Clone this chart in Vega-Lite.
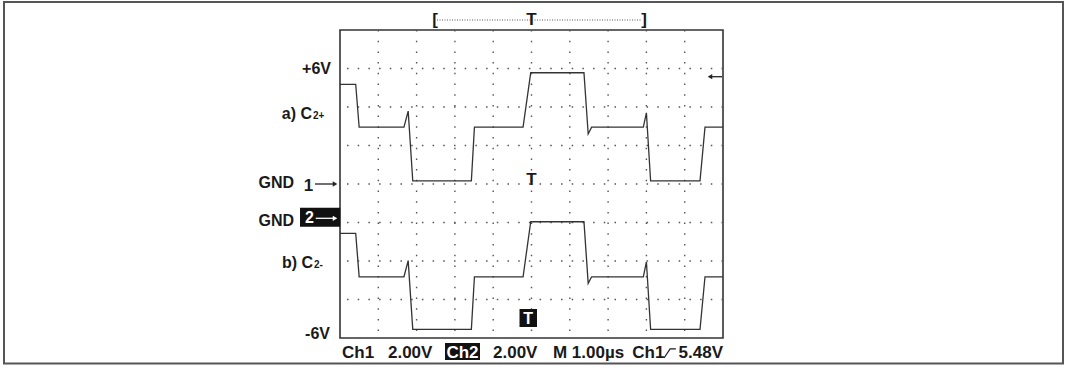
{
  "$schema": "https://vega.github.io/schema/vega-lite/v6.json",
  "width": 383,
  "height": 308,
  "autosize": {"type": "none"},
  "padding": {"left": 340, "top": 30, "right": 344, "bottom": 36},
  "background": "white",
  "config": {"view": {"stroke": "#333", "strokeWidth": 1.6}},
  "datasets": {
    "ch1": [
      {"i": 0, "t": -5.0, "v": 5.18}, {"i": 1, "t": -4.59, "v": 5.18}, {"i": 2, "t": -4.5, "v": 2.95},
      {"i": 3, "t": -3.33, "v": 2.95}, {"i": 4, "t": -3.22, "v": 3.79}, {"i": 5, "t": -3.1, "v": 0.16},
      {"i": 6, "t": -1.57, "v": 0.16}, {"i": 7, "t": -1.49, "v": 2.95}, {"i": 8, "t": -0.22, "v": 2.95},
      {"i": 9, "t": -0.02, "v": 5.78}, {"i": 10, "t": 1.37, "v": 5.78}, {"i": 11, "t": 1.48, "v": 2.6},
      {"i": 12, "t": 1.57, "v": 2.95}, {"i": 13, "t": 2.92, "v": 2.95}, {"i": 14, "t": 3.0, "v": 3.7},
      {"i": 15, "t": 3.11, "v": 0.16}, {"i": 16, "t": 4.4, "v": 0.16}, {"i": 17, "t": 4.53, "v": 2.95},
      {"i": 18, "t": 5.0, "v": 2.95}
    ],
    "ch2": [
      {"i": 0, "t": -5.0, "v": -0.56}, {"i": 1, "t": -4.59, "v": -0.56}, {"i": 2, "t": -4.5, "v": -2.82},
      {"i": 3, "t": -3.33, "v": -2.82}, {"i": 4, "t": -3.22, "v": -1.98}, {"i": 5, "t": -3.1, "v": -5.55},
      {"i": 6, "t": -1.57, "v": -5.55}, {"i": 7, "t": -1.49, "v": -2.82}, {"i": 8, "t": -0.22, "v": -2.82},
      {"i": 9, "t": -0.02, "v": 0.04}, {"i": 10, "t": 1.37, "v": 0.04}, {"i": 11, "t": 1.48, "v": -3.16},
      {"i": 12, "t": 1.57, "v": -2.82}, {"i": 13, "t": 2.92, "v": -2.82}, {"i": 14, "t": 3.0, "v": -2.04},
      {"i": 15, "t": 3.11, "v": -5.55}, {"i": 16, "t": 4.4, "v": -5.55}, {"i": 17, "t": 4.53, "v": -2.82},
      {"i": 18, "t": 5.0, "v": -2.82}
    ],
    "vgrid": [{"t": -4}, {"t": -3}, {"t": -2}, {"t": -1}, {"t": 0}, {"t": 1}, {"t": 2}, {"t": 3}, {"t": 4}],
    "hgrid": [{"v": -6}, {"v": -4}, {"v": -2}, {"v": 0}, {"v": 2}, {"v": 4}, {"v": 6}],
    "outer": [{"x1": -13.773, "x2": 13.877, "y1": 9.455, "y2": -9.325}],
    "leftLabels": [
      {"x": -5.235, "y": 5.714, "text": "+6V"},
      {"x": -5.731, "y": 3.38, "text": "a) C"},
      {"x": -6.201, "y": -0.223, "text": "GND"},
      {"x": -6.201, "y": -2.182, "text": "GND"},
      {"x": -5.705, "y": -4.364, "text": "b) C"},
      {"x": -5.261, "y": -8.05, "text": "-6V"}
    ],
    "subs": [
      {"x": -5.705, "y": 3.38, "text": "2+"},
      {"x": -5.679, "y": -4.364, "text": "2-"}
    ],
    "centerDark": [
      {"x": -5.825, "y": -0.348, "text": "1"},
      {"x": -2.52, "y": 8.26, "text": "["},
      {"x": 0.0, "y": 8.26, "text": "T"},
      {"x": 2.937, "y": 8.26, "text": "]"},
      {"x": 0.0, "y": -0.052, "text": "T"}
    ],
    "boxes": [
      {"x1": -6.044, "x2": -4.995, "y1": -1.231, "y2": -2.218},
      {"x1": -2.258, "x2": -1.345, "y1": -8.26, "y2": -9.143},
      {"x1": -0.313, "x2": 0.144, "y1": -6.494, "y2": -7.429}
    ],
    "whiteText": [
      {"x": -5.796, "y": -2.042, "text": "2"},
      {"x": -0.086, "y": -7.273, "text": "T"}
    ],
    "whiteBottom": [{"x": -1.802, "y": -9.039, "text": "Ch2"}],
    "bottomText": [
      {"x": -4.948, "y": -9.039, "text": "Ch1"},
      {"x": -3.747, "y": -9.039, "text": "2.00V"},
      {"x": -1.005, "y": -9.039, "text": "2.00V"},
      {"x": 0.561, "y": -9.039, "text": "M 1.00µs"},
      {"x": 2.63, "y": -9.039, "text": "Ch1"},
      {"x": 3.84, "y": -9.039, "text": "5.48V"}
    ],
    "darkShafts": [
      {"x": -5.653, "x2": -5.17, "y": 0},
      {"x": 4.66, "x2": 4.974, "y": 5.574}
    ],
    "whiteShafts": [{"x": -5.634, "x2": -5.17, "y": -1.782}],
    "dotted": [{"x": -2.467, "x2": 2.877, "y": 8.519}],
    "headsRight": [{"x": -5.13, "y": 0}],
    "headsLeft": [{"x": 4.66, "y": 5.574}],
    "headsRightWhite": [{"x": -5.13, "y": -1.782}],
    "edge": [
      {"i": 0, "x": 3.46, "y": -9.04},
      {"i": 1, "x": 3.62, "y": -8.57},
      {"i": 2, "x": 3.77, "y": -8.57}
    ]
  },
  "resolve": {"scale": {"y": "independent"}},
  "layer": [
    {
      "layer": [
        {
          "data": {"name": "vgrid"},
          "mark": {"type": "rule", "color": "#555", "strokeWidth": 1.4, "strokeDash": [1.5, 9.2]},
          "encoding": {
            "x": {"field": "t", "type": "quantitative", "scale": {"domain": [-5, 5], "nice": false, "zero": false}, "axis": null}
          }
        },
        {
          "data": {"name": "hgrid"},
          "mark": {"type": "rule", "color": "#555", "strokeWidth": 1.4, "strokeDash": [1.5, 9.2]},
          "encoding": {
            "y": {"field": "v", "type": "quantitative", "scale": {"domain": [-8, 8], "nice": false, "zero": false}, "axis": null}
          }
        },
        {
          "data": {"name": "ch1"},
          "mark": {"type": "line", "color": "#333", "strokeWidth": 1.3},
          "encoding": {
            "x": {"field": "t", "type": "quantitative", "axis": null},
            "y": {"field": "v", "type": "quantitative", "axis": null},
            "order": {"field": "i"}
          }
        },
        {
          "data": {"name": "outer"},
          "mark": {"type": "rect", "fill": null, "fillOpacity": 0, "stroke": "#555", "strokeWidth": 2},
          "encoding": {
            "x": {"field": "x1", "type": "quantitative", "axis": null},
            "x2": {"field": "x2"},
            "y": {"field": "y1", "type": "quantitative", "axis": null},
            "y2": {"field": "y2"}
          }
        },
        {
          "data": {"name": "boxes"},
          "mark": {"type": "rect", "fill": "#111"},
          "encoding": {
            "x": {"field": "x1", "type": "quantitative", "axis": null},
            "x2": {"field": "x2"},
            "y": {"field": "y1", "type": "quantitative", "axis": null},
            "y2": {"field": "y2"}
          }
        },
        {
          "data": {"name": "leftLabels"},
          "mark": {"type": "text", "align": "right", "baseline": "alphabetic", "font": "Liberation Sans", "fontWeight": "bold", "fontSize": 16, "color": "#1a1a1a"},
          "encoding": {
            "x": {"field": "x", "type": "quantitative", "axis": null},
            "y": {"field": "y", "type": "quantitative", "axis": null},
            "text": {"field": "text"}
          }
        },
        {
          "data": {"name": "subs"},
          "mark": {"type": "text", "align": "left", "baseline": "alphabetic", "font": "Liberation Sans", "fontWeight": "bold", "fontSize": 10, "color": "#1a1a1a"},
          "encoding": {
            "x": {"field": "x", "type": "quantitative", "axis": null},
            "y": {"field": "y", "type": "quantitative", "axis": null},
            "text": {"field": "text"}
          }
        },
        {
          "data": {"name": "centerDark"},
          "mark": {"type": "text", "align": "center", "baseline": "alphabetic", "font": "Liberation Sans", "fontWeight": "bold", "fontSize": 17, "color": "#1a1a1a"},
          "encoding": {
            "x": {"field": "x", "type": "quantitative", "axis": null},
            "y": {"field": "y", "type": "quantitative", "axis": null},
            "text": {"field": "text"}
          }
        },
        {
          "data": {"name": "whiteText"},
          "mark": {"type": "text", "align": "center", "baseline": "alphabetic", "font": "Liberation Sans", "fontWeight": "bold", "fontSize": 16, "color": "white"},
          "encoding": {
            "x": {"field": "x", "type": "quantitative", "axis": null},
            "y": {"field": "y", "type": "quantitative", "axis": null},
            "text": {"field": "text"}
          }
        },
        {
          "data": {"name": "whiteBottom"},
          "mark": {"type": "text", "align": "center", "baseline": "alphabetic", "font": "Liberation Sans", "fontWeight": "bold", "fontSize": 17, "color": "white"},
          "encoding": {
            "x": {"field": "x", "type": "quantitative", "axis": null},
            "y": {"field": "y", "type": "quantitative", "axis": null},
            "text": {"field": "text"}
          }
        },
        {
          "data": {"name": "bottomText"},
          "mark": {"type": "text", "align": "left", "baseline": "alphabetic", "font": "Liberation Sans", "fontWeight": "bold", "fontSize": 17, "color": "#1a1a1a"},
          "encoding": {
            "x": {"field": "x", "type": "quantitative", "axis": null},
            "y": {"field": "y", "type": "quantitative", "axis": null},
            "text": {"field": "text"}
          }
        },
        {
          "data": {"name": "darkShafts"},
          "mark": {"type": "rule", "color": "#222", "strokeWidth": 1.3},
          "encoding": {
            "x": {"field": "x", "type": "quantitative", "axis": null},
            "x2": {"field": "x2"},
            "y": {"field": "y", "type": "quantitative", "axis": null}
          }
        },
        {
          "data": {"name": "whiteShafts"},
          "mark": {"type": "rule", "color": "white", "strokeWidth": 1.3},
          "encoding": {
            "x": {"field": "x", "type": "quantitative", "axis": null},
            "x2": {"field": "x2"},
            "y": {"field": "y", "type": "quantitative", "axis": null}
          }
        },
        {
          "data": {"name": "dotted"},
          "mark": {"type": "rule", "color": "#555", "strokeWidth": 1, "strokeDash": [1, 1.5]},
          "encoding": {
            "x": {"field": "x", "type": "quantitative", "axis": null},
            "x2": {"field": "x2"},
            "y": {"field": "y", "type": "quantitative", "axis": null}
          }
        },
        {
          "data": {"name": "headsRight"},
          "mark": {"type": "point", "shape": "triangle-right", "filled": true, "color": "#222", "size": 28, "opacity": 1},
          "encoding": {
            "x": {"field": "x", "type": "quantitative", "axis": null},
            "y": {"field": "y", "type": "quantitative", "axis": null}
          }
        },
        {
          "data": {"name": "headsLeft"},
          "mark": {"type": "point", "shape": "triangle-left", "filled": true, "color": "#222", "size": 28, "opacity": 1},
          "encoding": {
            "x": {"field": "x", "type": "quantitative", "axis": null},
            "y": {"field": "y", "type": "quantitative", "axis": null}
          }
        },
        {
          "data": {"name": "headsRightWhite"},
          "mark": {"type": "point", "shape": "triangle-right", "filled": true, "color": "white", "size": 28, "opacity": 1},
          "encoding": {
            "x": {"field": "x", "type": "quantitative", "axis": null},
            "y": {"field": "y", "type": "quantitative", "axis": null}
          }
        },
        {
          "data": {"name": "edge"},
          "mark": {"type": "line", "color": "#1a1a1a", "strokeWidth": 1.2},
          "encoding": {
            "x": {"field": "x", "type": "quantitative", "axis": null},
            "y": {"field": "y", "type": "quantitative", "axis": null},
            "order": {"field": "i"}
          }
        }
      ]
    },
    {
      "data": {"name": "ch2"},
      "mark": {"type": "line", "color": "#333", "strokeWidth": 1.3},
      "encoding": {
        "x": {"field": "t", "type": "quantitative", "scale": {"domain": [-5, 5], "nice": false, "zero": false}, "axis": null},
        "y": {"field": "v", "type": "quantitative", "scale": {"domain": [-6, 10], "nice": false, "zero": false}, "axis": null},
        "order": {"field": "i"}
      }
    }
  ]
}
